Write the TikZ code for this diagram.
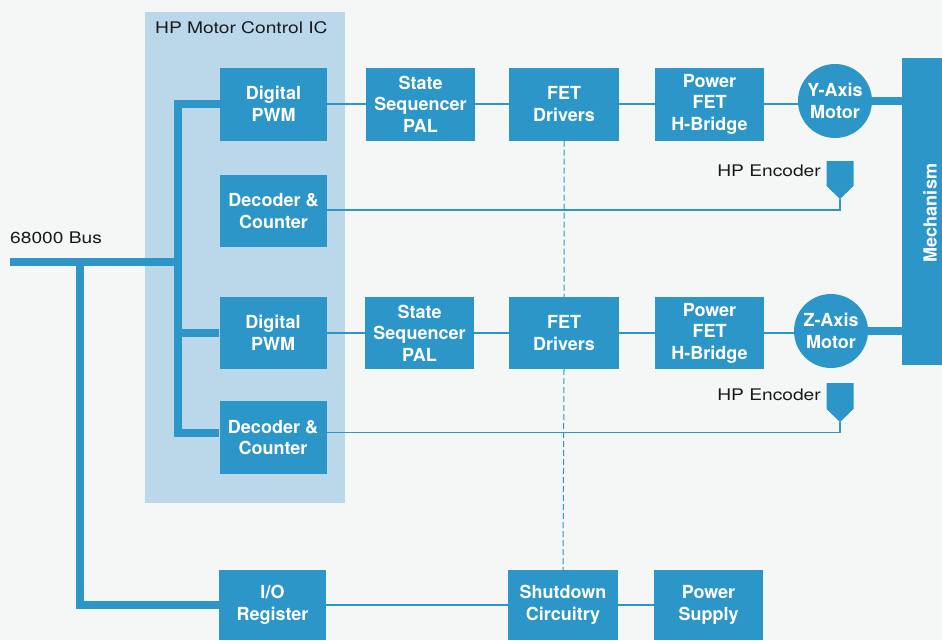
\documentclass[tikz,border=0pt]{standalone}
\usepackage{fontspec}
\setmainfont{TeX Gyre Heros}
\newfontfamily\lblfont[FakeStretch=1.2]{TeX Gyre Heros}
\definecolor{pagebg}{RGB}{244,247,246}
\definecolor{icbg}{RGB}{186,216,233}
\definecolor{boxblue}{RGB}{44,150,200}
\definecolor{lbltxt}{RGB}{24,26,28}
\begin{document}
\begin{tikzpicture}[x=1pt,y=-1pt,
  blk/.style={fill=boxblue, text=white, align=center, inner sep=0pt,
    font=\bfseries\fontsize{18}{21.5}\selectfont},
  blkA/.style={blk, minimum width=107pt, minimum height=73pt},
  blkB/.style={blk, minimum width=109pt, minimum height=73pt},
  motor/.style={blk, circle, minimum size=74pt},
  lbl/.style={text=lbltxt, inner sep=0pt, font=\lblfont\fontsize{16}{19}\selectfont},
  thin/.style={draw=boxblue, line width=1.5pt},
  thick/.style={draw=boxblue, line width=8pt},
  enc/.style={fill=boxblue}
]
\useasboundingbox (0,0) rectangle (942,640);
\fill[pagebg] (0,0) rectangle (942,640);
\fill[icbg] (145,12) rectangle (345,503);
\node[lbl, anchor=west] (iclbl) at (155,28) {HP Motor Control IC};
\node[lbl, anchor=west] (buslbl) at (10,238) {68000 Bus};

% IC blocks
\node[blkA] (pwm1) at (273.5,104) {Digital\\PWM};
\node[blkA, minimum height=72pt] (dec1) at (273.5,211) {Decoder \&\\Counter};
\node[blkA, minimum height=72pt] (pwm2) at (273,333) {Digital\\PWM};
\node[blkA] (dec2) at (273,437.5) {Decoder \&\\Counter};

% Y row
\node[blkB] (ssq1) at (420.5,104) {State\\Sequencer\\PAL};
\node[blkB, minimum width=110pt] (fet1) at (564,104) {FET\\Drivers};
\node[blkB] (pfet1) at (709.5,104) {Power\\FET\\H-Bridge};
\node[motor] (ymot) at (835,101) {Y-Axis\\Motor};

% Z row
\node[blkB, minimum height=72pt] (ssq2) at (419.5,333) {State\\Sequencer\\PAL};
\node[blkB, minimum width=110pt, minimum height=72pt] (fet2) at (564,333) {FET\\Drivers};
\node[blkB, minimum height=72pt] (pfet2) at (709.5,333) {Power\\FET\\H-Bridge};
\node[motor] (zmot) at (831,331) {Z-Axis\\Motor};

% bottom row
\node[blkA, minimum height=70pt] (io) at (272.5,605) {I/O\\Register};
\node[blkB, minimum width=110pt, minimum height=70pt] (shut) at (563,605) {Shutdown\\Circuitry};
\node[blkB, minimum height=70pt] (psu) at (708.5,605) {Power\\Supply};

% Mechanism
\fill[boxblue] (902,58) rectangle (942,365);
\node[text=white, inner sep=0pt, rotate=90, font=\bfseries\fontsize{18}{21}\selectfont] (mech) at (930,213) {Mechanism};
\coordinate (mechY) at (902,101);
\coordinate (mechZ) at (902,331);

% Encoders
\fill[enc] (826.5,161) -- (853.5,161) -- (853.5,186) -- (840,199) -- (826.5,186) -- cycle;
\coordinate (enc1) at (840,199);
\node[lbl, anchor=east] (enc1lbl) at (821,171) {HP Encoder};
\fill[enc] (826.5,383) -- (853.5,383) -- (853.5,409) -- (840,422) -- (826.5,409) -- cycle;
\coordinate (enc2) at (840,422);
\node[lbl, anchor=east] (enc2lbl) at (821,395) {HP Encoder};

% bus
\coordinate (busend) at (10,262);
\coordinate (busT) at (178,104);
\coordinate (busB) at (178,432.5);
\coordinate (busJ) at (178,262);
\coordinate (busK) at (80,262);
\coordinate (busL) at (80,605);
\draw[thick, line join=miter] (pwm1.west) -- (busT) -- (busB) -- ([yshift=5pt]dec2.west);
\draw[thick] (busend) -- (busJ);
\draw[thick] (pwm2.west) -- (pwm2.west -| busJ);
\draw[thick, line join=miter] (busK) -- (busL) -- (io.west);

% thin connectors
\draw[thin] (pwm1) -- (ssq1) (ssq1) -- (fet1) (fet1) -- (pfet1) (pfet1.east) -- (pfet1.east -| ymot.west);
\draw[thin] (pwm2) -- (ssq2) (ssq2) -- (fet2) (fet2) -- (pfet2) (pfet2.east) -- (pfet2.east -| zmot.west);
\draw[thin] ([yshift=1pt]dec1.east) -| (enc1);
\draw[thin] ([yshift=5pt]dec2.east) -| (enc2);
\draw[thin] (io) -- (shut) (shut) -- (psu);
\draw[thick] (ymot.east) -- (mechY);
\draw[thick] (zmot.east) -- (mechZ);
\draw[boxblue, line width=1pt, dash pattern=on 6pt off 3pt] (fet1.south) -- (fet2.north) (fet2.south) -- (shut.north);
\end{tikzpicture}
\end{document}
